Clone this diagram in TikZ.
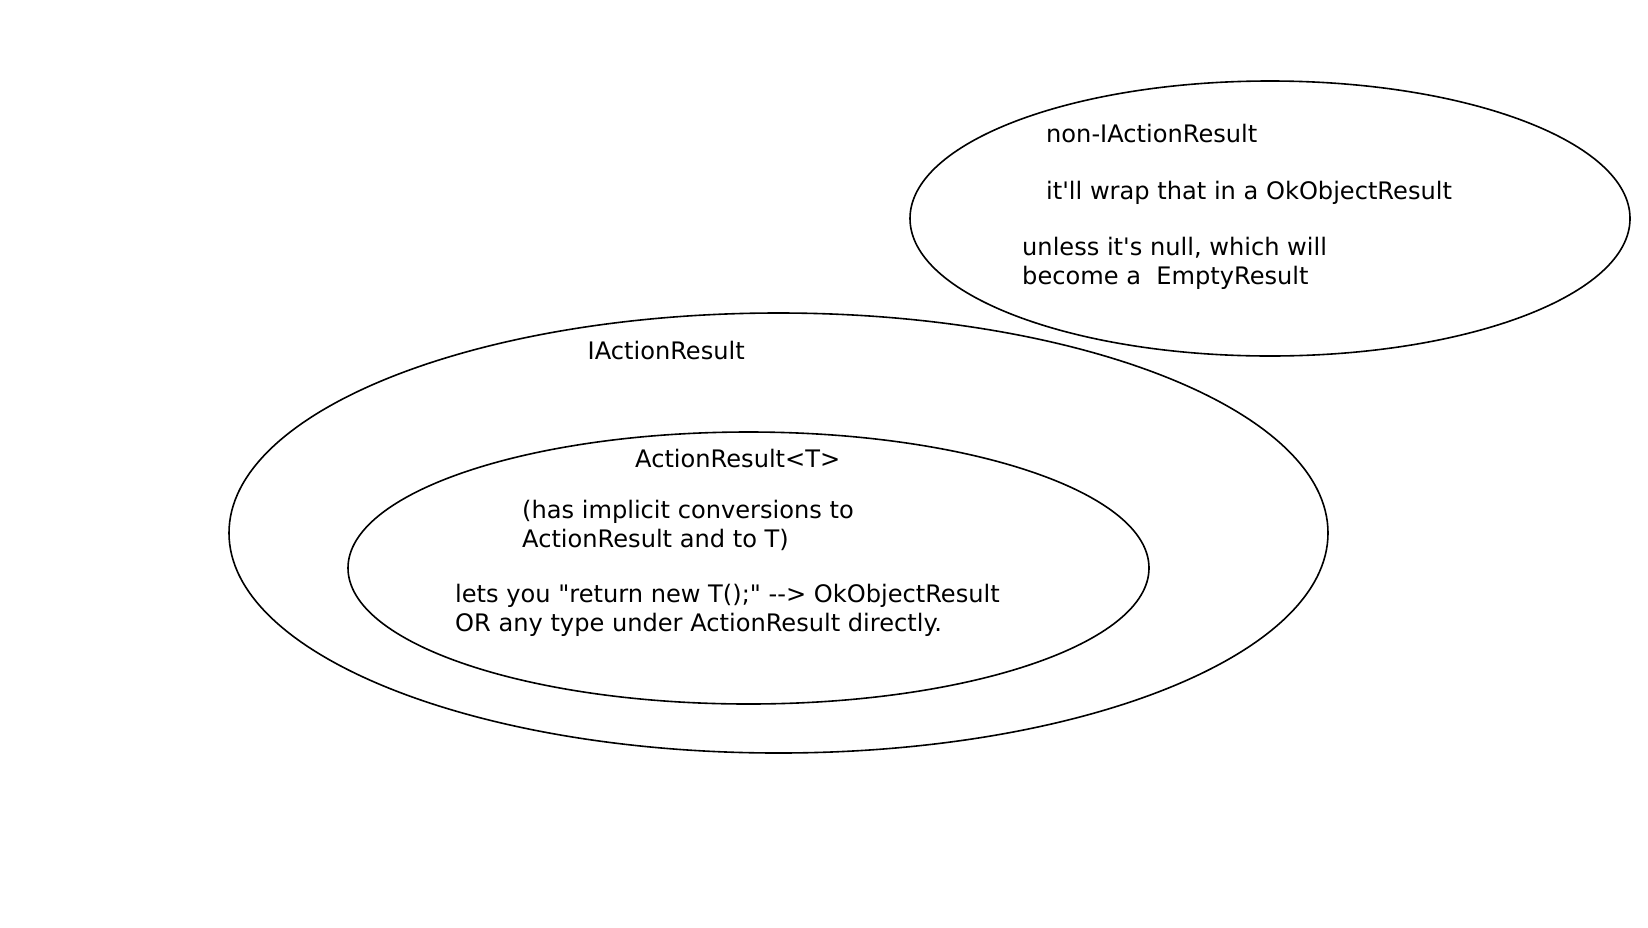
\documentclass[tikz,border=0pt]{standalone}
\usepackage{fontspec}
\setmainfont{DejaVu Sans}[Ligatures=TeXOff]
\begin{document}
\begin{tikzpicture}[x=1pt,y=-1pt,
  blob/.style={draw=black,line width=1.6pt},
  lbl/.style={anchor=base west,inner sep=0pt,font=\fontsize{24.1}{28}\selectfont}]
\useasboundingbox (0,0) rectangle (1648,927);
\draw[blob] (1270,218.5) ellipse [x radius=360, y radius=137.5];
\draw[blob] (778.5,533) ellipse [x radius=549.5, y radius=220];
\draw[blob] (748.5,568) ellipse [x radius=400.5, y radius=136];
\node[lbl] (t1) at (1046,142) {non-IActionResult};
\node[lbl] (t2) at (1046,199) {it'll wrap that in a OkObjectResult};
\node[lbl] (t3) at (1022,255) {unless it's null, which will};
\node[lbl] (t4) at (1022,284) {become a\ \ EmptyResult};
\node[lbl] (t5) at (587.5,359) {IActionResult};
\node[lbl] (t6) at (635,467) {ActionResult<T>};
\node[lbl] (t7) at (522,518) {(has implicit conversions to};
\node[lbl] (t8) at (522,547) {ActionResult and to T)};
\node[lbl] (t9) at (455,602) {lets you "return new T();" --> OkObjectResult};
\node[lbl] (t10) at (455,631) {OR any type under ActionResult directly.};
\end{tikzpicture}
\end{document}
